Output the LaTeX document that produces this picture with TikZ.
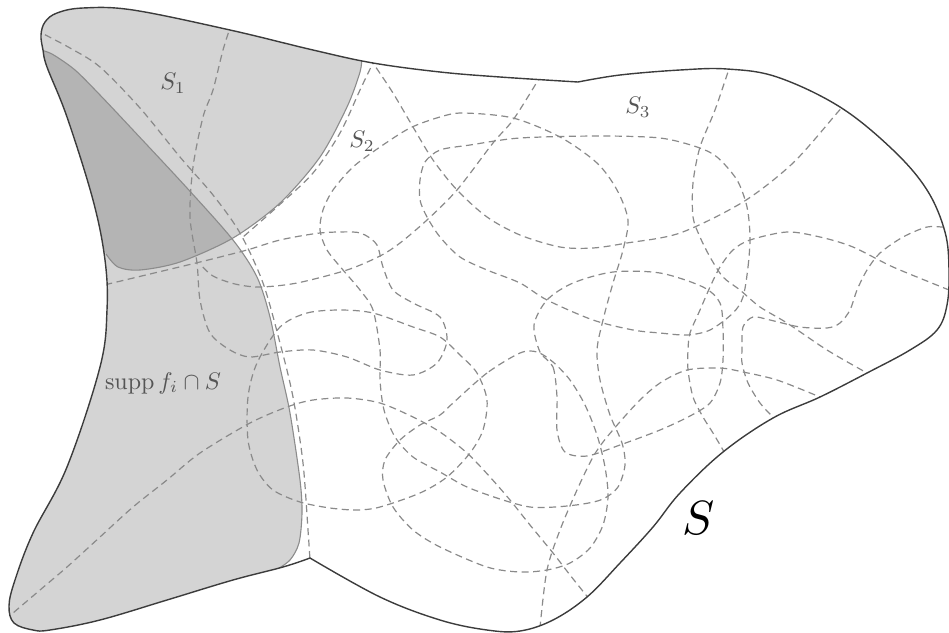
\documentclass[tikz,border=0pt]{standalone}
\usepackage{amsmath}
\definecolor{lightfill}{RGB}{212,212,212}
\definecolor{darkfill}{RGB}{180,180,180}
\definecolor{edgegray}{RGB}{140,140,140}
\definecolor{dashgray}{RGB}{138,138,138}
\definecolor{outline}{RGB}{60,60,60}
\definecolor{labelgray}{RGB}{85,85,85}
\tikzset{
 dashcurve/.style={draw=dashgray, line width=1.2pt, dash pattern=on 7pt off 4.5pt},
 regionedge/.style={draw=edgegray, line width=1.1pt},
 outerline/.style={draw=outline, line width=1.4pt},
 lbl/.style={text=labelgray, scale=2.4},
}
\newcommand\SBound{plot[smooth, tension=0.6] coordinates {(578,82) (500,77) (440,72) (373,63) (313,50) (230,30) (133,10) (83,8) (57,13) (45,22) (41,35) (43,50) (47,67) (67,117) (93,200) (105,260) (107,310) (100,367) (67,467) (33,533) (15,580) (9,606) (14,623) (33,630) (50,630) (100,620) (167,600) (233,580) (283,567) (310,558)} -- plot[smooth, tension=0.6] coordinates {(310,558) (380,597) (440,620) (487,630) (520,631) (553,620) (587,597) (620,563) (653,527) (680,493) (723,452) (773,418) (820,397) (867,373) (910,350) (937,330) (947,305) (949,270) (945,232) (927,190) (893,150) (840,107) (777,77) (727,69) (680,70) (620,75) (578,82)} -- cycle}
\newcommand\SonePath{(362,0) -- plot[smooth] coordinates {(362,55) (360,72) (347,107) (320,157) (280,203) (233,238) (180,262) (140,270) (118,267) (106,254) (100,240)} -- (0,240) -- (0,0) -- cycle}
\newcommand\SuppPath{(0,50) -- plot[smooth] coordinates {(40,50) (52,54) (75,70) (100,95) (133,130) (187,188) (233,240) (257,277) (270,317) (280,367) (290,413) (300,480) (302,513) (299,543) (290,560) (276,570)} -- (276,640) -- (0,640) -- cycle}
\begin{document}
\begin{tikzpicture}[x=1pt,y=-1pt]
\useasboundingbox (0,0) rectangle (949,632);
\begin{scope}
\clip \SBound;
\fill[lightfill] \SuppPath;
\fill[lightfill] \SonePath;
\begin{scope}
\clip \SonePath;
\fill[darkfill] \SuppPath;
\end{scope}
% region edges
\draw[regionedge] plot[smooth] coordinates {(362,55) (360,72) (347,107) (320,157) (280,203) (233,238) (180,262) (140,270) (118,267) (106,254)};
\draw[regionedge] plot[smooth] coordinates {(40,50) (52,54) (75,70) (100,95) (133,130) (187,188) (233,240) (257,277) (270,317) (280,367) (290,413) (300,480) (302,513) (299,543) (290,560) (276,570)};
% dashed curves
\draw[dashcurve] plot[smooth] coordinates {(36,28) (40,32) (70,48) (100,67) (140,108) (180,157) (213,195) (240,233) (263,283) (280,343) (293,397) (303,463) (308,530) (310,560)};
\draw[dashcurve] plot[smooth] coordinates {(376,58) (373,63) (360,90) (340,133) (313,173) (277,207) (243,237)};
\draw[dashcurve] plot[smooth] coordinates {(370,58) (373,63) (393,93) (413,127) (433,160) (457,190) (487,217) (520,235) (560,247) (593,248) (627,243) (680,233) (743,202) (793,163) (837,113) (850,98)};
\draw[dashcurve] plot[smooth] coordinates {(541,74) (537,82) (513,120) (493,143) (457,190) (427,220) (400,243) (380,256) (347,270) (297,283) (260,287) (235,284) (213,276) (200,264)};
\draw[dashcurve] plot[smooth] coordinates {(232,22) (223,50) (213,90) (203,117) (193,167) (190,217) (197,263) (200,300) (210,333) (230,350) (250,357) (280,352) (313,350) (347,357) (380,370) (413,375) (437,363) (447,340) (440,317) (413,303) (393,290) (383,267) (377,245) (365,235) (353,232) (320,233) (280,240) (247,250) (200,262) (150,274) (100,286)};
\draw[dashcurve] plot[smooth] coordinates {(732,62) (728,72) (715,110) (700,147) (693,183) (693,217) (700,237) (710,257) (723,277) (740,290) (760,307) (787,323) (827,350) (867,373) (880,380)};
\draw[dashcurve] plot[smooth cycle] coordinates {(380,350) (373,310) (360,290) (343,270) (327,250) (320,230) (323,210) (333,190) (353,167) (380,147) (410,128) (440,117) (463,113) (513,118) (560,137) (597,163) (617,190) (628,220) (623,250) (613,283) (603,320) (597,350) (600,380) (610,415) (622,443) (625,465) (618,487) (603,499) (583,504) (555,507) (530,507) (503,500) (467,487) (440,472) (413,457) (395,437) (384,410) (380,380)};
\draw[dashcurve] plot[smooth cycle] coordinates {(743,297) (748,267) (750,237) (747,207) (737,180) (717,157) (697,147) (660,138) (600,136) (520,138) (470,145) (440,150) (425,162) (420,180) (420,200) (427,217) (440,237) (460,257) (487,270) (520,283) (547,300) (593,320) (633,330) (660,333) (687,335) (710,330) (733,313)};
\draw[dashcurve] plot[smooth cycle] coordinates {(540,352) (553,367) (557,397) (557,430) (565,452) (587,456) (620,445) (660,430) (690,416) (710,403) (720,383) (723,360) (723,330) (720,303) (703,287) (660,273) (613,272) (573,283) (547,300) (534,325)};
\draw[dashcurve] plot[smooth cycle] coordinates {(520,353) (487,373) (453,403) (440,415) (420,425) (400,440) (385,460) (383,480) (393,507) (413,530) (440,547) (487,567) (520,572) (547,570) (570,563) (590,548) (603,525) (608,497) (605,467) (597,435) (585,405) (570,380) (553,362) (537,352)};
\draw[dashcurve] plot[smooth cycle] coordinates {(280,327) (307,313) (340,310) (373,313) (413,327) (440,337) (460,355) (477,373) (487,400) (483,430) (470,453) (447,477) (420,493) (380,507) (357,510) (330,508) (300,502) (273,490) (257,470) (248,440) (248,397) (257,363)};
\draw[dashcurve] plot[smooth] coordinates {(5,620) (13,613) (40,590) (67,567) (100,537) (133,507) (167,480) (200,453) (250,423) (287,407) (313,400) (347,398) (380,403) (413,417) (440,432) (467,453) (490,477) (510,500) (530,525) (553,553) (570,575) (590,600) (600,612)};
\draw[dashcurve] plot[smooth] coordinates {(539,640) (540,627) (547,570) (560,530) (577,490) (593,457) (607,437) (637,403) (660,383) (687,370) (720,368) (743,372) (777,380) (820,397) (835,404)};
\draw[dashcurve] plot[smooth] coordinates {(955,225) (944,227) (927,227) (903,237) (880,253) (867,270) (857,290) (850,310) (840,323) (827,328) (800,327) (770,320) (753,317) (743,327) (742,350) (742,363) (748,383) (760,403) (773,417) (782,425)};
\draw[dashcurve] plot[smooth] coordinates {(960,295) (949,290) (893,267) (853,247) (820,237) (787,232) (750,240) (733,250) (720,267) (710,287) (700,310) (690,333) (688,350) (688,370) (693,397) (703,417) (713,433) (723,450) (728,460)};
\end{scope}
\draw[outerline] \SBound;
\node[lbl] (s1) at (173,83) {$S_1$};
\node[lbl] (s2) at (362,141) {$S_2$};
\node[lbl] (s3) at (638,107) {$S_3$};
\node[lbl] (supp) at (163,383) {$\operatorname{supp} f_i\cap S$};
\node[scale=4.8] (S) at (699,518) {$S$};
\end{tikzpicture}
\end{document}
